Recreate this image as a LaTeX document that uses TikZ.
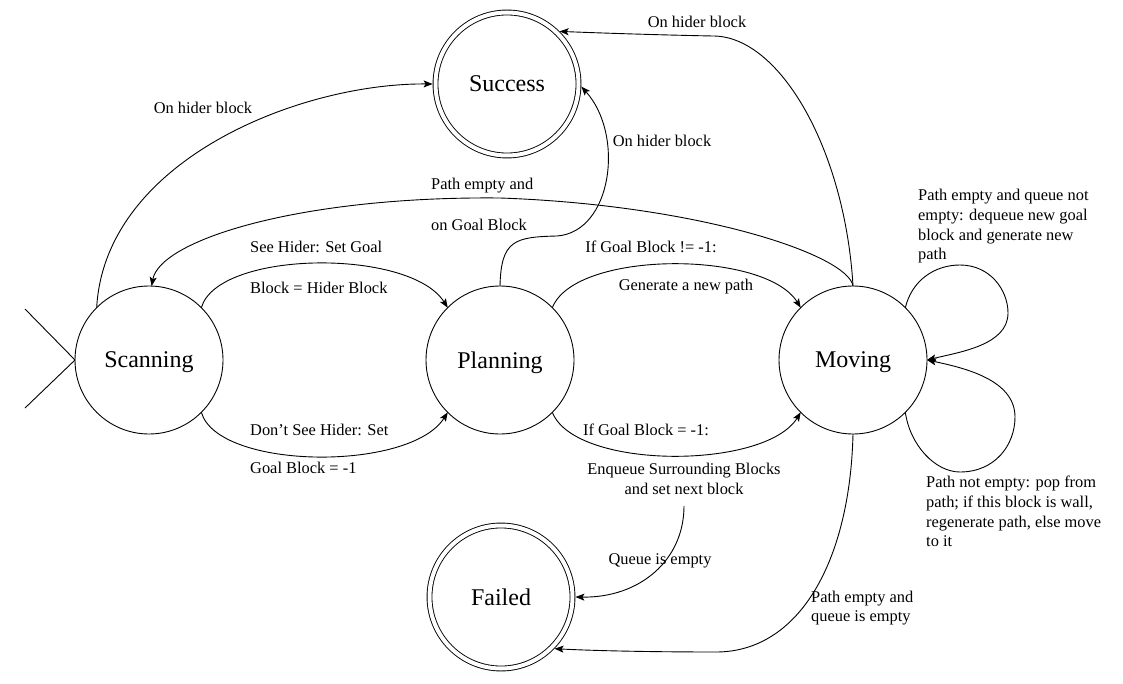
\documentclass[tikz,border=0pt]{standalone}
\usepackage{fontspec}
\setmainfont{Liberation Serif}
\usetikzlibrary{arrows.meta}
\tikzset{
  state/.style={circle, draw, line width=0.9pt, minimum size=148pt, inner sep=0pt, outer sep=0pt, text depth=0pt, font=\fontsize{24}{28}\selectfont},
  final/.style={circle, draw, line width=0.9pt, double, double distance=4pt, minimum size=143pt, inner sep=0pt, outer sep=2.9pt, text depth=0pt, font=\fontsize{24}{28}\selectfont},
  edge/.style={line width=0.9pt, -{Stealth[length=9pt,width=7pt,inset=2pt]}},
  plainline/.style={line width=0.9pt},
  lbl/.style={font=\fontsize{16.4}{19.7}\selectfont, inner sep=0pt},
}
\begin{document}
\begin{tikzpicture}[x=1pt,y=-1pt]
\useasboundingbox[fill=white] (0,0) rectangle (1123,684);
% states
\node[state] (scan) at (149,360) {Scanning};
\node[state] (plan) at (500,360) {Planning};
\node[state] (mov) at (853,360) {Moving};
\node[final] (succ) at (507,84) {Success};
\node[final] (fail) at (501,597) {Failed};
% initial marker
\coordinate (i1) at (25,309);
\coordinate (i2) at (25,408);
\draw[plainline] (i1) -- (scan.180) -- (i2);
% labels
\node[lbl] (l1) at (203,108) {On hider block};
\node[lbl] (l2) at (662,141) {On hider block};
\node[lbl] (l3) at (697,22) {On hider block};
\node[lbl,anchor=west] (l4a) at (431,186) {Path empty and};
\node[lbl,anchor=west] (l4b) at (431,225) {on Goal Block};
\node[lbl,anchor=west] (l5a) at (250,247) {See Hider: Set Goal};
\node[lbl,anchor=west] (l5b) at (250,288) {Block = Hider Block};
\node[lbl,anchor=west] (l6a) at (250,430) {Don’t See Hider: Set};
\node[lbl,anchor=west] (l6b) at (250,468) {Goal Block = -1};
\node[lbl] (l7a) at (651,247) {If Goal Block != -1:};
\node[lbl] (l7b) at (686,287) {Generate a new path};
\node[lbl] (l8a) at (646,430) {If Goal Block = -1:};
\node[lbl,align=center] (l8b) at (684,479) {Enqueue Surrounding Blocks\\and set next block};
\node[lbl] (l9) at (660,561) {Queue is empty};
\node[lbl,align=left,anchor=west] (l10) at (811,608) {Path empty and\\queue is empty};
\node[lbl,align=left,anchor=west] (l11) at (918,226.5) {Path empty and queue not\\empty: dequeue new goal\\block and generate new\\path};
\node[lbl,align=left,anchor=west] (l12) at (926,511.5) {Path not empty: pop from\\path; if this block is wall,\\regenerate path, else move\\to it};
% edges
\draw[edge] (scan.135) .. controls (105,160) and (300,83) .. (succ.180);
\draw[edge] (plan.90) .. controls (501,240) and (515,237) .. (557,236) .. controls (612,232) and (625,135) .. (succ.-2);
\draw[edge] (mov.90) .. controls (845,150) and (780,36) .. (713,36) .. controls (660,35) and (600,33) .. (succ.45);
\draw[edge] (mov.90) .. controls (848,255) and (700,205) .. (500,198) .. controls (300,196) and (160,240) .. (scan.88);
\draw[edge] (scan.45) .. controls (218,250) and (410,248) .. (plan.135);
\draw[edge] (scan.-45) .. controls (218,470) and (410,472) .. (plan.225);
\draw[edge] (plan.45) .. controls (575,250) and (765,250) .. (mov.135);
\draw[edge] (plan.-45) .. controls (575,470) and (765,470) .. (mov.225);
\coordinate (qs) at (684,506);
\draw[edge] (qs) .. controls (684,560) and (640,598) .. (fail.0);
\draw[edge] (mov.270) .. controls (850,560) and (800,652) .. (716,652) .. controls (660,652) and (600,651) .. (fail.-44);
\draw[edge] (mov.45) .. controls (912,280) and (935,265) .. (960,265) .. controls (990,265) and (1008,290) .. (1008,313) .. controls (1008,345) and (960,352) .. (mov.0);
\draw[edge] (mov.-45) .. controls (910,445) and (935,472) .. (960,472) .. controls (995,472) and (1015,445) .. (1015,417) .. controls (1015,380) and (965,368) .. (mov.0);
\end{tikzpicture}
\end{document}
